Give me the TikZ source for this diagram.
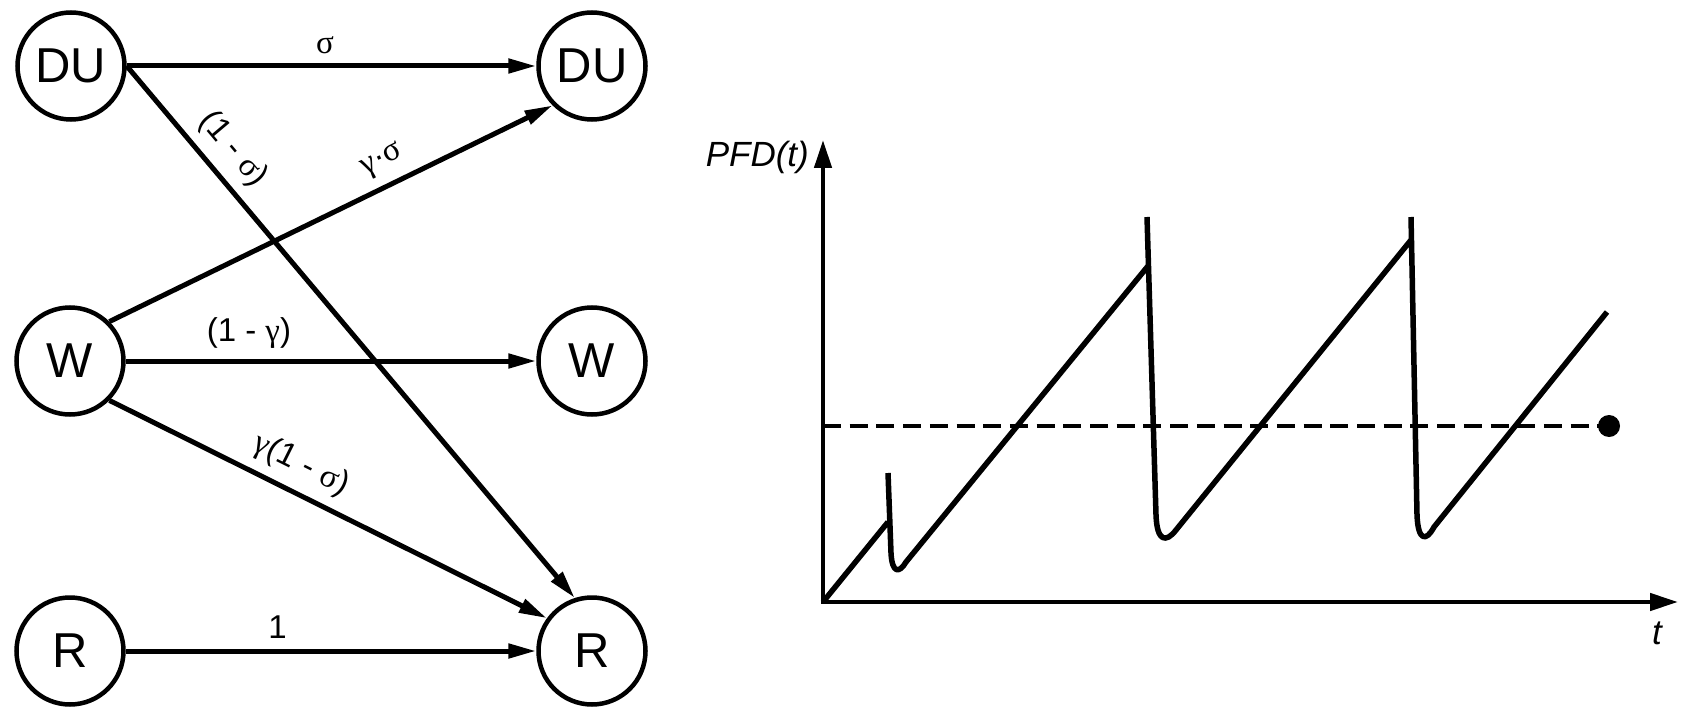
\documentclass[tikz,border=0pt]{standalone}
\usepackage{fontspec}
\setmainfont{Liberation Sans}
\newfontfamily\gr{Liberation Serif}
\usetikzlibrary{arrows.meta}
\begin{document}
\begin{tikzpicture}[x=1pt,y=-1pt,
  state/.style={circle,draw,line width=4.5pt,minimum size=107pt,inner sep=0pt,
    font=\fontsize{49}{56}\selectfont},
  edge/.style={line width=5pt,-{Triangle[length=28pt,width=14pt]}},
  lbl/.style={inner sep=0pt,above=10pt,font=\fontsize{33}{38}\selectfont},
  axis/.style={line width=4.5pt,{Triangle[length=28pt,width=17pt]}-{Triangle[length=28pt,width=17pt]}},
  curve/.style={line width=5.5pt,line join=round},
  level/.style={line width=4.5pt,dash pattern=on 18pt off 8.7pt},
  axlbl/.style={inner sep=0pt,font=\fontsize{35}{40}\selectfont\itshape}
]
\useasboundingbox (0,0) rectangle (1685,719);
% states
\node[state] (DU1) at (71,66) {DU};
\node[state] (DU2) at (592,66) {DU};
\node[state] (W1) at (70,361) {W};
\node[state] (W2) at (592,361) {W};
\node[state] (R1) at (70,651) {R};
\node[state] (R2) at (592,651) {R};
% transitions
\draw[edge] (DU1) -- node[lbl,pos=0.484]{\gr σ} (DU2);
\draw[edge] (DU1.east) -- node[lbl,sloped,pos=0.19]{(1 - {\gr σ})} (R2.108);
\draw[edge] (W1.45) -- node[lbl,sloped,pos=0.64]{{\gr γ}·{\gr σ}} (DU2.225);
\draw[edge] (W1) -- node[lbl,pos=0.30]{(1 - {\gr γ})} (W2);
\draw[edge] (W1.-45) -- node[lbl,sloped,pos=0.41]{{\gr γ}(1 - {\gr σ})} (R2.144);
\draw[edge] (R1) -- node[lbl,pos=0.37]{1} (R2);
% graph
\coordinate (O) at (823,602);
\coordinate (Ytop) at (823,140);
\coordinate (Xend) at (1678,602);
\coordinate (Lstart) at (823,426);
\coordinate (Lend) at (1609,426);
\draw[axis] (Ytop) -- (O) -- (Xend);
\draw[level] (Lstart) -- (Lend);
\fill (Lend) circle (11pt);
\draw[curve] (O) -- (888,522)
  (888,473) -- (891,553) .. controls (892,573) and (899,574) .. (906,562) -- (1148,266)
  (1147,217) -- (1156,515) .. controls (1157,542) and (1166,543) .. (1176,530) -- (1411,240)
  (1411,217) -- (1417,515) .. controls (1418,541) and (1426,542) .. (1434,527) -- (1607,312);
\node[axlbl,anchor=base east] (pfd) at (809,167) {PFD(t)};
\node[axlbl,anchor=base] (tlbl) at (1657,644) {t};
\end{tikzpicture}
\end{document}
